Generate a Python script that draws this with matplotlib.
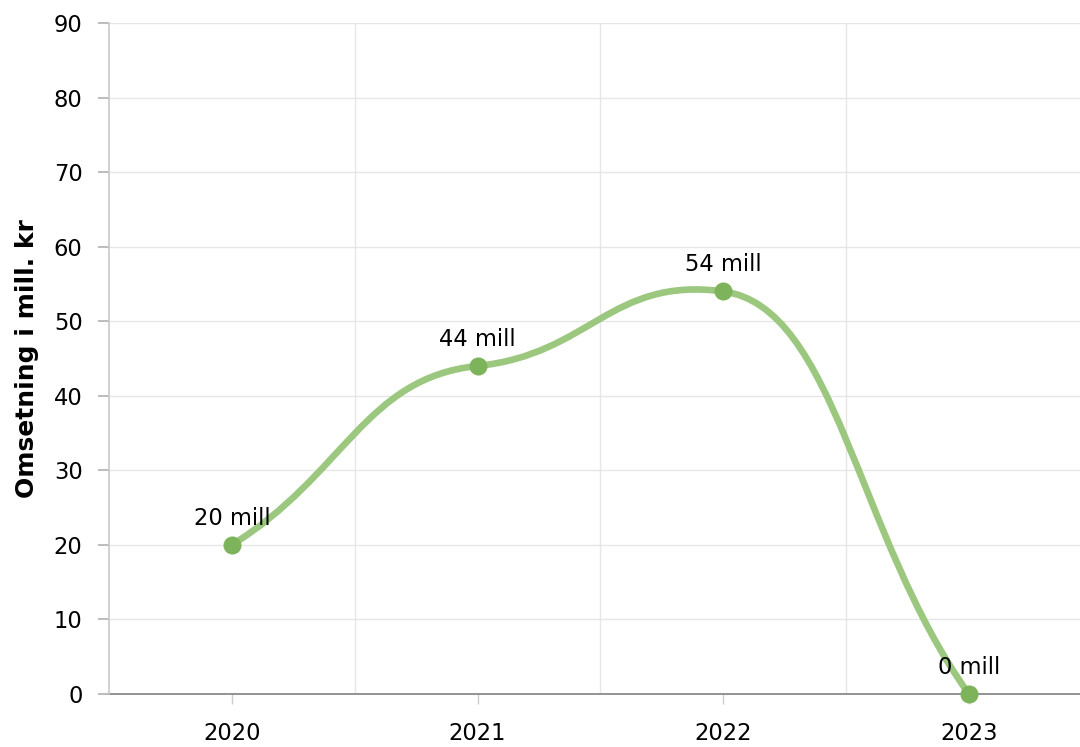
import matplotlib
matplotlib.use("Agg")
import matplotlib.pyplot as plt
from matplotlib.path import Path
from matplotlib.patches import PathPatch
import numpy as np

categories = ["2020", "2021", "2022", "2023"]
values = [20, 44, 54, 0]
labels = ["20 mill", "44 mill", "54 mill", "0 mill"]
y_ticks = [0, 10, 20, 30, 40, 50, 60, 70, 80, 90]
y_label = "Omsetning i mill. kr"

LINE_COLOR = "#9bc87e"
MARKER_COLOR = "#7db45b"

plt.rcParams['font.family'] = ['DejaVu Sans']

fig = plt.figure(figsize=(10.8, 7.47), dpi=100)
ax = fig.add_axes([109/1080, 1-694/747, (1091.75-109)/1080, (694-23)/747])

xs = np.arange(len(categories), dtype=float)
ys = np.array(values, dtype=float)


def smooth_path(xs, ys, k_int=0.2, k_end=0.85, c=0.46):
    """Cubic Bezier spline with damped tangents."""
    n = len(xs)
    m = np.zeros(n)
    for i in range(n):
        if i == 0:
            m[i] = k_end * (ys[1] - ys[0]) / (xs[1] - xs[0])
        elif i == n - 1:
            m[i] = k_end * (ys[-1] - ys[-2]) / (xs[-1] - xs[-2])
        else:
            m[i] = k_int * (ys[i+1] - ys[i-1]) / (xs[i+1] - xs[i-1])
    verts = [(xs[0], ys[0])]
    codes = [Path.MOVETO]
    for i in range(n - 1):
        w = xs[i+1] - xs[i]
        verts += [(xs[i] + c*w, ys[i] + m[i]*c*w),
                  (xs[i+1] - c*w, ys[i+1] - m[i+1]*c*w),
                  (xs[i+1], ys[i+1])]
        codes += [Path.CURVE4]*3
    return Path(verts, codes)


path = smooth_path(xs, ys)
ax.add_patch(PathPatch(path, facecolor="none", edgecolor=LINE_COLOR, lw=4.8,
                       capstyle="round", joinstyle="round", zorder=3, clip_on=False))
ax.plot(xs, ys, linestyle="none", marker="o", markersize=13, color=MARKER_COLOR,
        markeredgewidth=0, zorder=4, clip_on=False)

for x, y, t in zip(xs, ys, labels):
    ax.annotate(t, (x, y), xytext=(0, 11), textcoords="offset points",
                ha="center", va="bottom", fontsize=16.3, color="#000000", zorder=5)

ax.set_xlim(-0.5, len(categories)-0.5)
ax.set_ylim(0, 90)
ax.set_yticks(y_ticks)
ax.set_yticklabels([str(v) for v in y_ticks], fontsize=16.3)
ax.set_xticks(xs)
ax.set_xticklabels(categories, fontsize=16.3)

# gridlines
for v in y_ticks[1:]:
    ax.axhline(v, color="#e6e6e6", lw=1, zorder=1)
for b in np.arange(-0.5, len(categories), 1.0)[1:]:
    ax.axvline(b, color="#e6e6e6", lw=1, zorder=1)

for s in ["top", "right"]:
    ax.spines[s].set_visible(False)
ax.spines["left"].set_color("#c8c8c8")
ax.spines["left"].set_linewidth(1.2)
ax.spines["bottom"].set_color("#808080")
ax.spines["bottom"].set_linewidth(1.2)
ax.spines["bottom"].set_zorder(2)

ax.tick_params(axis="y", length=8, width=1.2, color="#b0b0b0", pad=11)
ax.tick_params(axis="x", length=7, width=1, color="#cccccc", pad=13)

ax.set_ylabel(y_label, fontsize=18, fontweight="bold", labelpad=11)

fig.savefig("out.png", dpi=100, facecolor="white")
